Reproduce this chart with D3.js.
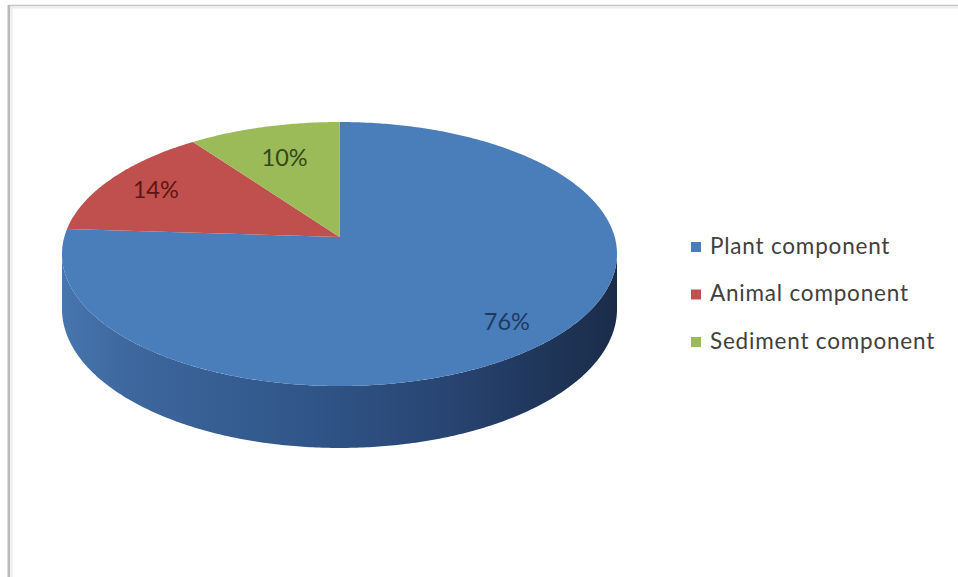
<!DOCTYPE html>
<html>
<head>
<meta charset="utf-8">
<script src="https://cdn.jsdelivr.net/npm/d3@7"></script>
<style>
  html, body { margin: 0; padding: 0; background: #ffffff; }
  svg { display: block; }
</style>
</head>
<body>
<svg id="chart" width="958" height="577"></svg>
<script>
// Composition of the deposit, in percent
const categories = ["Plant component", "Animal component", "Sediment component"];
const values = [76, 14, 10];
const labels = ["76%", "14%", "10%"];
const colors = ["#4a7ebb", "#c0504d", "#9bbb59"];
const labelColors = ["#1d3a63", "#5e1614", "#36481a"];

const W = 958, H = 577;
const svg = d3.select("#chart");

// Frame of the chart area
svg.append("rect").attr("x", 0).attr("y", 0).attr("width", W).attr("height", H).attr("fill", "#ffffff");
svg.append("line").attr("x1", 8).attr("x2", W).attr("y1", 5.5).attr("y2", 5.5)
  .attr("stroke", "#c4c4c4").attr("stroke-width", 1.6);
svg.append("line").attr("x1", 10).attr("x2", W).attr("y1", 7.5).attr("y2", 7.5)
  .attr("stroke", "#ececec").attr("stroke-width", 2);
svg.append("line").attr("x1", 8.8).attr("x2", 8.8).attr("y1", 5).attr("y2", H)
  .attr("stroke", "#b9b9b9").attr("stroke-width", 2.6);
svg.append("line").attr("x1", 11.5).attr("x2", 11.5).attr("y1", 7).attr("y2", H)
  .attr("stroke", "#ececec").attr("stroke-width", 2);

// Perspective projection of a unit disk lying flat (x right, z away from viewer)
const CX = 339.5, CY = 237;
const P = 0.1288;          // perspective strength
const A = 275.2;           // horizontal radius
const B = 129.8;           // vertical (depth) radius
const DEPTH = 54;          // thickness of the pie
function proj(x, z, h) {
  const s = 1 / (1 + P * z);
  return [CX + A * x * s, CY - B * z * s + DEPTH * s * h];
}
// angle measured clockwise from 12 o'clock, as d3.pie uses
function rim(theta, r, h) {
  return proj(r * Math.sin(theta), r * Math.cos(theta), h);
}

const pie = d3.pie().sort(null).startAngle(0).endAngle(2 * Math.PI);
const arcs = pie(values);
const line = d3.line();

function sampleArc(a0, a1, r, h) {
  const n = Math.max(2, Math.ceil(Math.abs(a1 - a0) / 0.01));
  return d3.range(n + 1).map(i => rim(a0 + (a1 - a0) * i / n, r, h));
}

// Side wall: the front part of the rim, between the two silhouette points
const defs = svg.append("defs");
const grad = defs.append("linearGradient").attr("id", "sideGrad")
  .attr("gradientUnits", "userSpaceOnUse")
  .attr("x1", CX - 278).attr("x2", CX + 278).attr("y1", 0).attr("y2", 0);
[[0, "#4775ae"], [0.12, "#3d679e"], [0.45, "#305588"], [0.7, "#284471"], [0.88, "#1f3558"], [1, "#1a2c49"]]
  .forEach(([o, c]) => grad.append("stop").attr("offset", o).attr("stop-color", c));

const tA = Math.acos(-P), tB = 2 * Math.PI - Math.acos(-P);
const sidePts = sampleArc(tA, tB, 1, 0).concat(sampleArc(tB, tA, 1, 1));
svg.append("path").attr("d", line(sidePts) + "Z").attr("fill", "url(#sideGrad)");

// Top faces of the slices
svg.append("g").selectAll("path").data(arcs).join("path")
  .attr("d", d => line([proj(0, 0, 0)].concat(sampleArc(d.startAngle, d.endAngle, 1, 0))) + "Z")
  .attr("fill", (d, i) => colors[i]);

// Percentage labels placed inside each slice
const labelRadius = [0.82, 0.8, 0.7];
svg.append("g").selectAll("text").data(arcs).join("text")
  .attr("x", (d, i) => rim((d.startAngle + d.endAngle) / 2, labelRadius[i], 0)[0])
  .attr("y", (d, i) => rim((d.startAngle + d.endAngle) / 2, labelRadius[i], 0)[1])
  .attr("dy", "0.36em")
  .attr("text-anchor", "middle")
  .attr("font-family", "Lato, 'Open Sans', sans-serif")
  .attr("font-size", 23.5)
  .attr("fill", (d, i) => labelColors[i])
  .text((d, i) => labels[i]);

// Legend
const legend = svg.append("g").attr("transform", "translate(691,0)");
const legendY = d3.scalePoint().domain(categories).range([247, 342]);
const item = legend.selectAll("g").data(categories).join("g")
  .attr("transform", d => `translate(0,${legendY(d)})`);
item.append("rect").attr("x", 0).attr("y", -5).attr("width", 10).attr("height", 10)
  .attr("fill", (d, i) => colors[i]);
item.append("text").attr("x", 19).attr("y", 6.5)
  .attr("font-family", "Lato, 'Open Sans', sans-serif")
  .attr("font-size", 22.5)
  .attr("letter-spacing", 0.8)
  .attr("fill", "#404040")
  .text(d => d);
</script>
</body>
</html>
